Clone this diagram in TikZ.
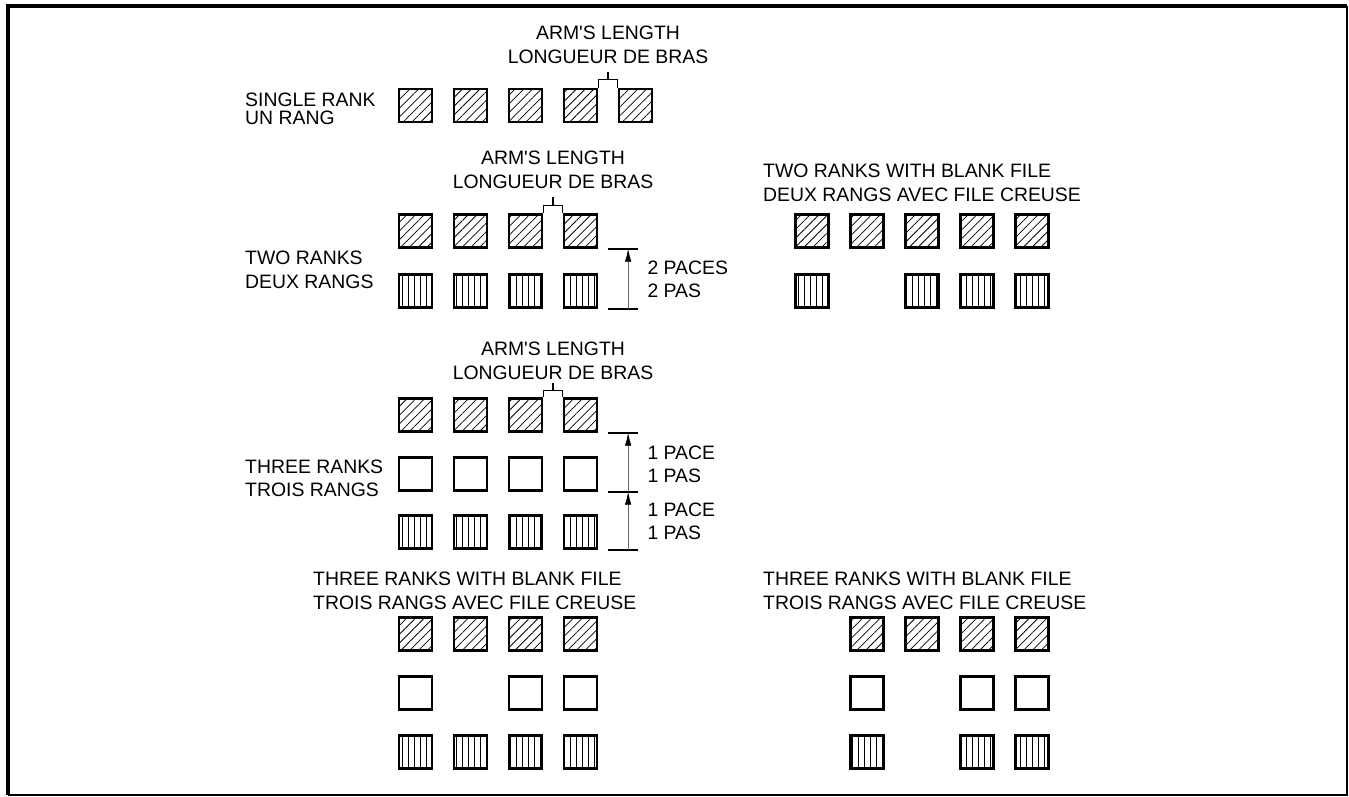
\documentclass[tikz,border=0pt]{standalone}
\usepackage{fontspec}
\setmainfont{Liberation Sans}
\usepackage{tikz}
\usetikzlibrary{arrows.meta, positioning, calc, patterns.meta}
\tikzset{
  soldier/.style={draw, line width=2.3pt, minimum size=33pt, inner sep=0pt},
  frontrank/.style={soldier, pattern={Lines[angle=45, distance=6.2pt, line width=0.75pt]}},
  centrerank/.style={soldier},
  rearrank/.style={soldier, pattern={Lines[angle=90, distance=6pt, line width=0.75pt]}},
  bracket/.style={line width=1.2pt},
  paceline/.style={line width=2pt},
  pacearrow/.style={draw=black!60, line width=0.8pt, -{Latex[length=13pt, width=6.5pt, color=black]}},
  caption/.style={font=\fontsize{19.4}{24}\selectfont, align=center, inner sep=0pt},
  ranklabel/.style={font=\fontsize{19.4}{23}\selectfont, align=left, anchor=west, inner sep=0pt},
  pacelabel/.style={font=\fontsize{19.4}{23}\selectfont, align=left, inner sep=0pt}
}

\begin{document}
\begin{tikzpicture}[x=1pt, y=-1pt]
\useasboundingbox (0,0) rectangle (1349,797);

% Frame
\draw[line width=4pt] (8,795) -- (8,6) -- (1347,6);
\draw[line width=1.5pt] (1347,6) -- (1347,795) -- (8,795);

% Single rank
\foreach \i in {1,...,5}
  \node[frontrank] (sa\i) at ({360.5+55*\i},105.5) {};
\node[ranklabel, font=\fontsize{19.4}{18.5}\selectfont] (single) at (245,109) {SINGLE RANK\\UN RANG};
\draw[bracket] (sa4.north east) -- ++(0,-8) -| (sa5.north west);
\draw[bracket] ($(sa4.north east)!.5!(sa5.north west)$) ++(0,-8) -- ++(0,-8) coordinate (armA);
\node[caption, above=8pt of armA] (armlenA) {ARM\textquotesingle S LENGTH\\LONGUEUR DE BRAS};

% Two ranks
\foreach \i in {1,...,4} {
  \node[frontrank] (tf\i) at ({360.5+55*\i},231) {};
  \node[rearrank] (tr\i) at ({360.5+55*\i},291) {};
}
\node[ranklabel, font=\fontsize{19.4}{24}\selectfont] (two) at (245,270) {TWO RANKS\\DEUX RANGS};
\draw[bracket] (tf3.north east) -- ++(0,-8) -| (tf4.north west);
\draw[bracket] ($(tf3.north east)!.5!(tf4.north west)$) ++(0,-8) -- ++(0,-8) coordinate (armB);
\node[caption, above=8pt of armB] (armlenB) {ARM\textquotesingle S LENGTH\\LONGUEUR DE BRAS};
\coordinate (pB1) at ([xshift=30pt]tf4.south east);
\coordinate (pB2) at ([xshift=30pt]tr4.south east);
\foreach \c in {pB1,pB2}
  \draw[paceline] ([xshift=-20pt]\c) -- ([xshift=10pt]\c);
\draw[pacearrow] (pB2) -- node[pacelabel, right=19pt, yshift=-1pt] (paceB) {2 PACES\\2 PAS} (pB1);

% Two ranks with blank file
\foreach \i in {1,...,5}
  \node[frontrank] (bf\i) at ({757+55*\i},231) {};
\foreach \i in {1,3,4,5}
  \node[rearrank] (br\i) at ({757+55*\i},291) {};
\node[caption, align=left, anchor=west] (blankB) at (763,182.5) {TWO RANKS WITH BLANK FILE\\DEUX RANGS AVEC FILE CREUSE};

% Three ranks
\foreach \i in {1,...,4} {
  \node[frontrank] (hf\i) at ({360.5+55*\i},415) {};
  \node[centrerank] (hc\i) at ({360.5+55*\i},474) {};
  \node[rearrank] (hr\i) at ({360.5+55*\i},532) {};
}
\node[ranklabel] (three) at (245,478) {THREE RANKS\\TROIS RANGS};
\draw[bracket] (hf3.north east) -- ++(0,-7) -| (hf4.north west);
\draw[bracket] ($(hf3.north east)!.5!(hf4.north west)$) ++(0,-7) -- ++(0,-7) coordinate (armC);
\node[caption, above=3pt of armC] (armlenC) {ARM\textquotesingle S LENGTH\\LONGUEUR DE BRAS};
\coordinate (pC1) at ([xshift=30pt]hf4.south east);
\coordinate (pC2) at ([xshift=30pt]hc4.south east);
\coordinate (pC3) at ([xshift=30pt]hr4.south east);
\foreach \c in {pC1,pC2,pC3}
  \draw[paceline] ([xshift=-20pt]\c) -- ([xshift=10pt]\c);
\draw[pacearrow] (pC2) -- node[pacelabel, right=19pt, yshift=-2pt] (paceC1) {1 PACE\\1 PAS} (pC1);
\draw[pacearrow] (pC3) -- node[pacelabel, right=19pt, yshift=-1pt] (paceC2) {1 PACE\\1 PAS} (pC2);

% Three ranks with blank file (left)
\foreach \i in {1,...,4} {
  \node[frontrank] (lf\i) at ({360.5+55*\i},634) {};
  \node[rearrank] (lr\i) at ({360.5+55*\i},752) {};
}
\foreach \i in {1,3,4}
  \node[centrerank] (lc\i) at ({360.5+55*\i},693) {};
\node[caption, align=left, anchor=west] (blankL) at (313,590.5) {THREE RANKS WITH BLANK FILE\\TROIS RANGS AVEC FILE CREUSE};

% Three ranks with blank file (right)
\foreach \i in {1,...,4}
  \node[frontrank] (rf\i) at ({812+55*\i},634) {};
\foreach \i in {1,3,4} {
  \node[centrerank] (rc\i) at ({812+55*\i},693) {};
  \node[rearrank] (rr\i) at ({812+55*\i},752) {};
}
\node[caption, align=left, anchor=west] (blankR) at (763,590.5) {THREE RANKS WITH BLANK FILE\\TROIS RANGS AVEC FILE CREUSE};

\end{tikzpicture}
\end{document}
